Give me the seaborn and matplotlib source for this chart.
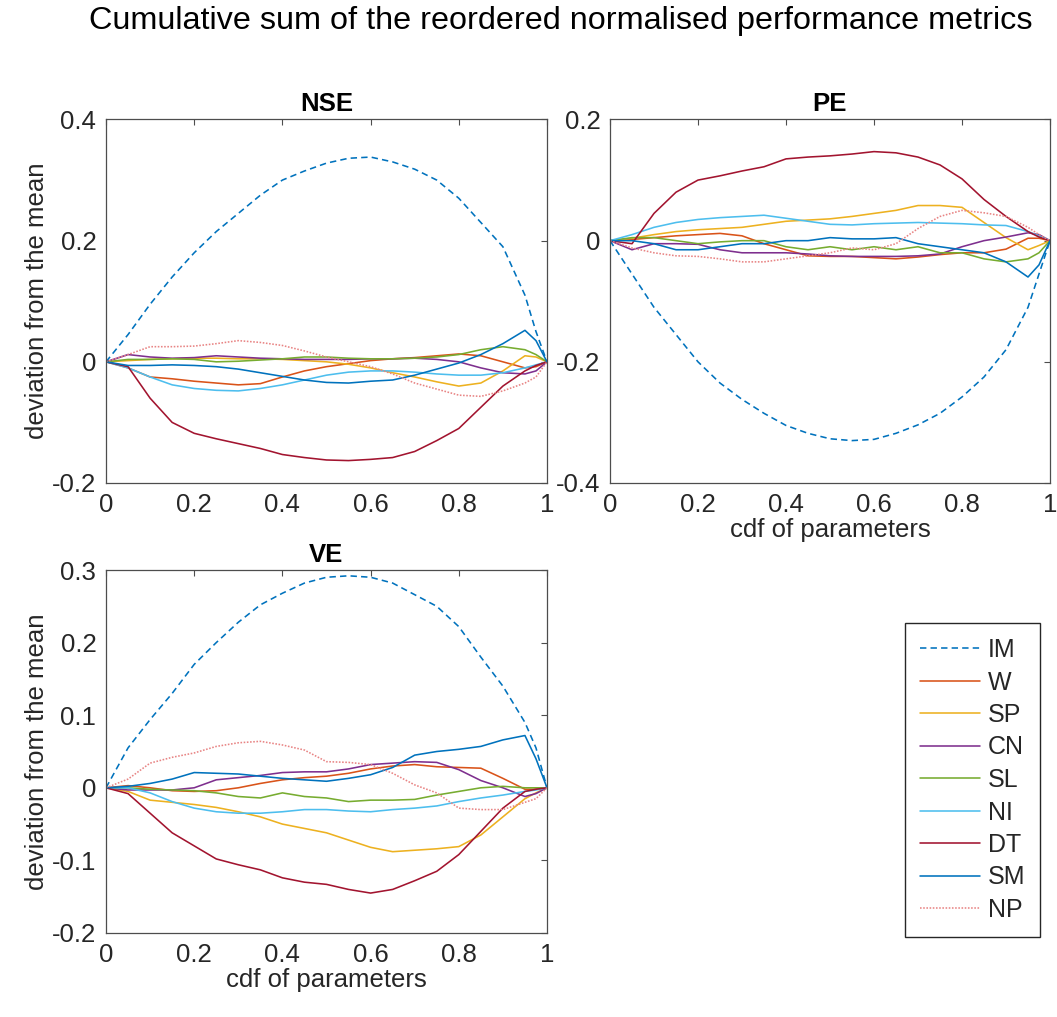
import numpy as np
import pandas as pd
import matplotlib
matplotlib.use("Agg")
import matplotlib.pyplot as plt
from matplotlib.ticker import FuncFormatter, FixedLocator
import seaborn as sns

# ---------------- data ----------------
cdf = [0, .05, .1, .15, .2, .25, .3, .35, .4, .45, .5, .55, .6, .65, .7, .75,
       .8, .85, .9, .95, .975, 1]

series_names = ["IM", "W", "SP", "CN", "SL", "NI", "DT", "SM", "NP"]

# NSE
nse_IM = [0, .045, .095, .14, .18, .215, .245, .275, .30, .315, .328, .336, .338, .33, .318, .30, .27, .23, .19, .11, .05, 0]
nse_W  = [0, -.01, -.025, -.028, -.032, -.035, -.038, -.036, -.025, -.015, -.008, -.003, .002, .005, .007, .01, .013, .01, 0, -.01, -.008, 0]
nse_SP = [0, .002, .004, .005, .006, .006, .005, .005, .004, .002, 0, -.004, -.01, -.018, -.025, -.033, -.04, -.035, -.015, .01, .008, 0]
nse_CN = [0, .012, .008, .006, .007, .01, .008, .006, .005, .004, .004, .004, .005, .005, .006, .004, 0, -.01, -.018, -.02, -.015, 0]
nse_SL = [0, .004, .004, .005, .004, 0, .001, .003, .005, .008, .008, .006, .005, .005, .006, .008, .012, .02, .025, .02, .012, 0]
nse_NI = [0, -.01, -.025, -.038, -.044, -.047, -.048, -.044, -.038, -.03, -.022, -.017, -.015, -.015, -.017, -.02, -.022, -.022, -.018, -.01, -.005, 0]
nse_DT = [0, -.008, -.06, -.1, -.118, -.127, -.135, -.143, -.153, -.158, -.162, -.163, -.161, -.158, -.148, -.13, -.11, -.075, -.04, -.015, -.006, 0]
nse_SM = [0, -.006, -.006, -.005, -.006, -.008, -.012, -.018, -.024, -.03, -.034, -.035, -.032, -.03, -.022, -.012, -.002, .012, .03, .052, .035, 0]
nse_NP = [0, .012, .025, .025, .026, .03, .035, .032, .027, .018, .008, 0, -.008, -.02, -.035, -.045, -.055, -.057, -.048, -.035, -.025, 0]

# PE
pe_IM = [0, -.055, -.11, -.155, -.2, -.235, -.262, -.285, -.305, -.318, -.327, -.33, -.328, -.318, -.304, -.285, -.258, -.225, -.18, -.11, -.055, 0]
pe_W  = [0, .002, .005, .008, .01, .012, .008, -.005, -.015, -.025, -.026, -.026, -.028, -.03, -.027, -.023, -.02, -.02, -.014, .004, .004, 0]
pe_SP = [0, .004, .01, .015, .018, .02, .022, .027, .032, .034, .036, .04, .045, .05, .058, .058, .055, .03, .005, -.015, -.008, 0]
pe_CN = [0, -.015, -.005, -.005, -.006, -.015, -.02, -.02, -.02, -.022, -.025, -.026, -.026, -.026, -.025, -.022, -.01, 0, .006, .013, .01, 0]
pe_SL = [0, .005, .005, 0, -.005, -.002, 0, 0, -.01, -.015, -.01, -.015, -.01, -.015, -.01, -.02, -.02, -.03, -.035, -.03, -.02, 0]
pe_NI = [0, .01, .022, .03, .035, .038, .04, .042, .037, .032, .027, .026, .028, .029, .03, .029, .028, .026, .025, .015, .008, 0]
pe_DT = [0, -.005, .045, .08, .1, .107, .115, .122, .135, .138, .14, .143, .147, .145, .138, .125, .102, .068, .04, .015, .006, 0]
pe_SM = [0, 0, -.005, -.015, -.015, -.01, -.005, -.005, 0, 0, .005, .003, .003, .005, -.005, -.01, -.015, -.02, -.035, -.06, -.04, 0]
pe_NP = [0, -.012, -.02, -.025, -.026, -.03, -.035, -.035, -.03, -.025, -.02, -.012, -.015, -.005, .02, .04, .05, .046, .04, .022, .01, 0]

# VE
ve_IM = [0, .055, .094, .13, .17, .2, .228, .252, .268, .282, .29, .292, .29, .282, .266, .25, .222, .18, .14, .09, .055, 0]
ve_W  = [0, .003, 0, -.004, -.005, -.004, 0, .006, .011, .014, .016, .02, .026, .03, .032, .029, .028, .027, .013, -.002, -.002, 0]
ve_SP = [0, -.005, -.017, -.02, -.023, -.027, -.033, -.04, -.05, -.056, -.062, -.072, -.082, -.088, -.086, -.084, -.081, -.065, -.04, -.015, -.007, 0]
ve_CN = [0, -.003, -.003, -.003, 0, .011, .014, .017, .021, .022, .022, .026, .032, .034, .036, .035, .025, .01, 0, -.012, -.008, 0]
ve_SL = [0, 0, -.002, -.003, -.004, -.007, -.012, -.014, -.007, -.012, -.014, -.019, -.017, -.017, -.016, -.01, -.005, 0, .002, 0, 0, 0]
ve_NI = [0, 0, -.007, -.019, -.028, -.033, -.035, -.035, -.033, -.03, -.03, -.032, -.033, -.03, -.028, -.025, -.019, -.014, -.01, -.005, -.003, 0]
ve_DT = [0, -.008, -.035, -.062, -.08, -.098, -.106, -.113, -.124, -.13, -.133, -.14, -.145, -.14, -.128, -.115, -.092, -.06, -.028, -.005, -.002, 0]
ve_SM = [0, .002, .006, .012, .021, .02, .019, .016, .013, .011, .009, .013, .018, .028, .045, .05, .053, .057, .066, .072, .04, 0]
ve_NP = [0, .012, .034, .042, .048, .057, .062, .064, .059, .052, .036, .035, .032, .02, .004, -.007, -.028, -.03, -.03, -.02, -.015, 0]

panel_titles = ["NSE", "PE", "VE"]
nse_ticks = [-0.2, 0, 0.2, 0.4]
pe_ticks = [-0.4, -0.2, 0, 0.2]
ve_ticks = [-0.2, -0.1, 0, 0.1, 0.2, 0.3]
x_ticks = [0, 0.2, 0.4, 0.6, 0.8, 1]

main_title = "Cumulative sum of the reordered normalised performance metrics"
xlab = "cdf of parameters"
ylab = "deviation from the mean"

# ---------------- styling ----------------
sns.set_theme(style="white")
plt.rcParams["font.family"] = ["Liberation Sans", "DejaVu Sans"]
plt.rcParams["axes.unicode_minus"] = False

colors = {
    "IM": "#0072BD", "W": "#D95319", "SP": "#EDB120", "CN": "#7E2F8E",
    "SL": "#77AC30", "NI": "#4DBEEE", "DT": "#A2142F", "SM": "#0072BD",
    "NP": "#E88484",
}
styles = {n: "-" for n in series_names}
styles["IM"] = (0, (4, 2.6))
styles["NP"] = (0, (1, 1))

panels = [
    ("NSE", [nse_IM, nse_W, nse_SP, nse_CN, nse_SL, nse_NI, nse_DT, nse_SM, nse_NP], nse_ticks),
    ("PE", [pe_IM, pe_W, pe_SP, pe_CN, pe_SL, pe_NI, pe_DT, pe_SM, pe_NP], pe_ticks),
    ("VE", [ve_IM, ve_W, ve_SP, ve_CN, ve_SL, ve_NI, ve_DT, ve_SM, ve_NP], ve_ticks),
]

W, H = 1057, 1017
fig = plt.figure(figsize=(W / 100, H / 100), dpi=100)

def px_axes(l, t, r, b):
    return fig.add_axes([l / W, 1 - b / H, (r - l) / W, (b - t) / H])

boxes = {"NSE": (106, 119.5, 547, 483), "PE": (610, 119.5, 1050, 483),
         "VE": (106, 570, 547, 933)}

fmt = FuncFormatter(lambda v, p: ("%g" % round(v, 6)))
spine_col = "#4d4d4d"
FS = 18.5

for name, data, yt in panels:
    ax = px_axes(*boxes[name])
    for sname, vals in zip(series_names, data):
        df = pd.DataFrame({"cdf": cdf, "dev": vals})
        sns.lineplot(data=df, x="cdf", y="dev", ax=ax, color=colors[sname],
                     linestyle=styles[sname], linewidth=1.15, legend=False)
        ax.get_lines()[-1].set_label(sname)
    ax.set_xlim(0, 1)
    ax.set_ylim(yt[0], yt[-1])
    ax.xaxis.set_major_locator(FixedLocator(x_ticks))
    ax.yaxis.set_major_locator(FixedLocator(yt))
    ax.xaxis.set_major_formatter(fmt)
    ax.yaxis.set_major_formatter(fmt)
    ax.tick_params(direction="in", length=4, width=0.8, color=spine_col,
                   labelsize=FS, labelcolor="#262626", top=True, right=True,
                   pad=7)
    for sp in ax.spines.values():
        sp.set_color(spine_col)
        sp.set_linewidth(0.9)
    ax.set_title(name, fontsize=FS, fontweight="bold", color="black", pad=6)
    ax.set_xlabel(xlab if name in ("PE", "VE") else "", fontsize=FS,
                  color="#262626", labelpad=1)
    ax.set_ylabel(ylab if name in ("NSE", "VE") else "", fontsize=FS,
                  color="#262626", labelpad=2)
    if name == "VE":
        handles = ax.get_lines()[:len(series_names)]

fig.legend(handles, series_names, loc="upper left",
           bbox_to_anchor=(905 / W, 1 - 623 / H), frameon=True, fancybox=False,
           edgecolor="#262626", framealpha=1, fontsize=FS - 0.5,
           handlelength=2.4, handletextpad=0.3, labelspacing=0.34,
           borderpad=0.6, borderaxespad=0)

fig.text(561 / W, 1 - 21 / H, main_title, ha="center", va="center",
         fontsize=23.3, color="black")

fig.savefig("out.png", dpi=100)
